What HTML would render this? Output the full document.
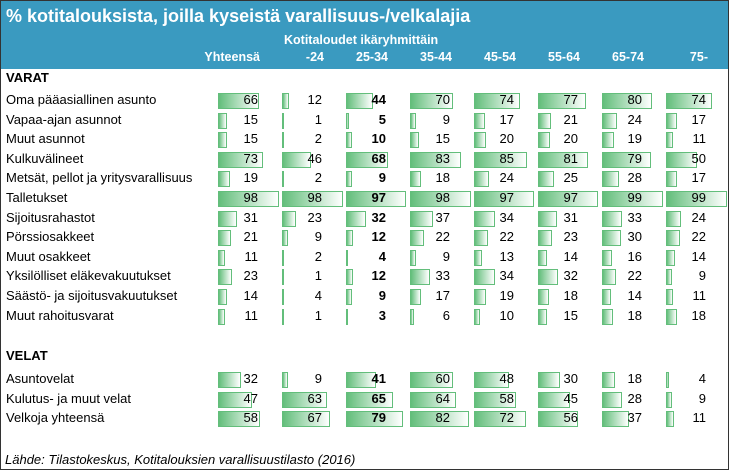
<!DOCTYPE html>
<html><head><meta charset="utf-8"><style>
body{margin:0;width:729px;height:470px;overflow:hidden;background:#fff;font-family:"Liberation Sans",sans-serif;}
#wrap{position:absolute;left:0;top:0;width:727px;height:468px;border:1px solid #333;}
#hdr{position:absolute;left:0;top:0;width:727px;height:68px;background:#3a9ac0;}
.t{position:absolute;white-space:nowrap;}
.r{text-align:right;width:60px;}
.bar{position:absolute;height:16px;background:linear-gradient(90deg,#63be7b,#fff);border:1px solid #63be7b;box-sizing:border-box;}
</style></head><body>
<div id="wrap">
<div id="hdr"></div>
<div class="t" style="left:5px;top:5px;color:#fff;font-weight:bold;font-size:18px;">% kotitalouksista, joilla kyseistä varallisuus-/velkalajia</div>
<div class="t" style="left:283px;top:32px;color:#fff;font-weight:bold;font-size:12.5px;">Kotitaloudet ikäryhmittäin</div>
</div>
<script>
const columns=["Yhteensä","-24","25-34","35-44","45-54","55-64","65-74","75-"];
const assetLabels=["Oma pääasiallinen asunto","Vapaa-ajan asunnot","Muut asunnot","Kulkuvälineet","Metsät, pellot ja yritysvarallisuus","Talletukset","Sijoitusrahastot","Pörssiosakkeet","Muut osakkeet","Yksilölliset eläkevakuutukset","Säästö- ja sijoitusvakuutukset","Muut rahoitusvarat"];
const assetValues=[
[66,12,44,70,74,77,80,74],
[15,1,5,9,17,21,24,17],
[15,2,10,15,20,20,19,11],
[73,46,68,83,85,81,79,50],
[19,2,9,18,24,25,28,17],
[98,98,97,98,97,97,99,99],
[31,23,32,37,34,31,33,24],
[21,9,12,22,22,23,30,22],
[11,2,4,9,13,14,16,14],
[23,1,12,33,34,32,22,9],
[14,4,9,17,19,18,14,11],
[11,1,3,6,10,15,18,18]];
const debtLabels=["Asuntovelat","Kulutus- ja muut velat","Velkoja yhteensä"];
const debtValues=[
[32,9,41,60,48,30,18,4],
[47,63,65,64,58,45,28,9],
[58,67,79,82,72,56,37,11]];
const wrap=document.getElementById('wrap');
function colX(i){return 217+i*64;}
function txt(s,x,y,opts,name){
  const d=document.createElement('div');d.className='t'+(opts.right?' r':'');d.textContent=s;
  d.style.top=(y-9)+'px';d.style.fontSize=(opts.size||13)+'px';d.style.color=opts.color||'#000';
  if(opts.bold)d.style.fontWeight='bold';
  if(opts.italic)d.style.fontStyle='italic';
  d.style.left=(opts.right?x-60:x)+'px';
  
  
  wrap.appendChild(d);
}
columns.forEach((c,i)=>{txt(c,colX(i)+42,58,{bold:true,color:'#fff',size:12.5,right:true},'column-header');});
txt("VARAT",5,78,{bold:true},'section-varat');
txt("VELAT",5,356,{bold:true},'section-velat');
function rows(labels,vals,y0,scale,prefix){
  labels.forEach((l,r)=>{
    const y=y0+r*19.6;
    txt(l,5,y,{},prefix+'-label');
    vals[r].forEach((v,i)=>{
      const b=document.createElement('div');b.className='bar';
      b.style.left=colX(i)+'px';b.style.top=(y-8)+'px';
      b.style.width=Math.max(2,Math.min(61,v*scale))+'px';
      
      
      wrap.appendChild(b);
      txt(String(v),colX(i)+40,y,{bold:i===2,right:true},prefix+'-value');
    });
  });
}
rows(assetLabels,assetValues,100,0.62,'asset');
rows(debtLabels,debtValues,379,0.72,'debt');
txt("Lähde: Tilastokeskus, Kotitalouksien varallisuustilasto (2016)",4,460,{italic:true},'source-note');
</script>
</body></html>
